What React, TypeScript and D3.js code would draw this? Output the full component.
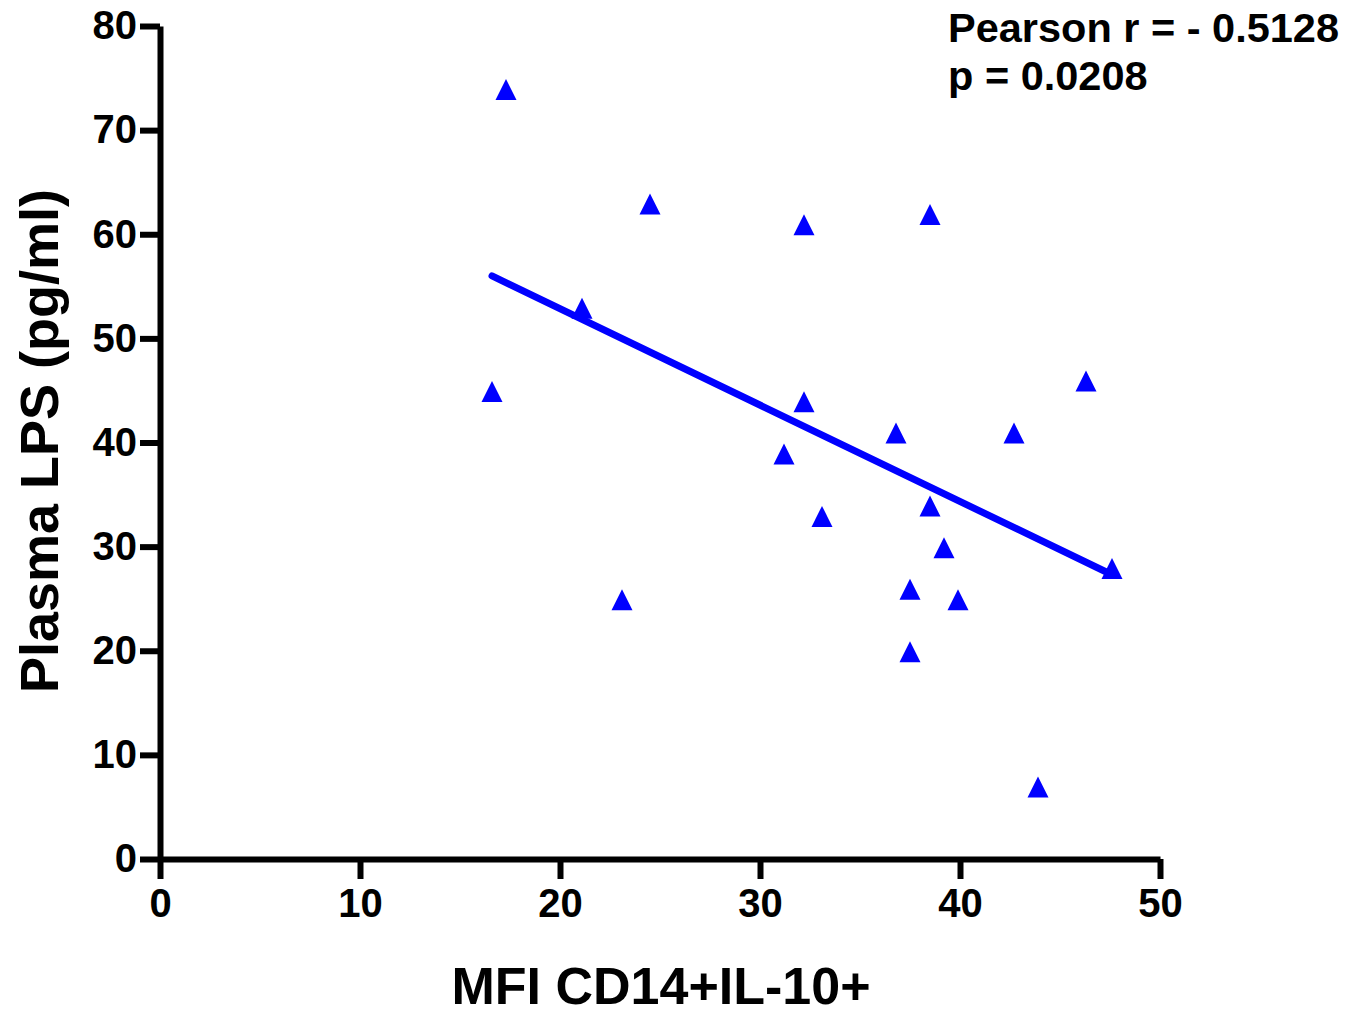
import React, { useEffect, useRef } from "react";
import * as d3 from "d3";

// MFI CD14+IL-10+ (x) vs plasma LPS (y)
const mfiValues = [17.3, 16.6, 21.1, 24.5, 23.1, 32.2, 38.5, 32.2, 31.2, 33.1, 36.8, 38.5, 39.2, 37.5, 37.5, 39.9, 42.7, 46.3, 47.6, 43.9];
const lpsValues = [74, 45, 53, 63, 25, 61, 62, 44, 39, 33, 41, 34, 30, 26, 20, 25, 41, 46, 28, 7];
const fitX = [16.6, 47.6];
const fitY = [56, 27.3];
const xTicks = [0, 10, 20, 30, 40, 50];
const yTicks = [0, 10, 20, 30, 40, 50, 60, 70, 80];
const statLines = ["Pearson r = - 0.5128", "p = 0.0208"];

export default function App() {
  const svgRef = useRef<SVGSVGElement>(null);
  const width = 1363;
  const height = 1016;
  const margin = { top: 26, right: 203, bottom: 157, left: 160 };
  const font = "'Liberation Sans', Arial, sans-serif";

  useEffect(() => {
    const svg = d3.select(svgRef.current);
    svg.selectAll("*").remove();

    const x = d3.scaleLinear().domain([0, 50]).range([margin.left, width - margin.right]);
    const y = d3.scaleLinear().domain([0, 80]).range([height - margin.bottom, margin.top]);

    // y axis
    const yAxis = svg
      .append("g")
      .attr("transform", `translate(${margin.left}, 0)`)
      .call(d3.axisLeft(y).tickValues(yTicks).tickSize(20).tickSizeOuter(0).tickPadding(3));
    yAxis.select(".domain").attr("stroke-width", 6).attr("stroke", "#000");
    yAxis.selectAll(".tick line").attr("stroke-width", 6).attr("stroke", "#000");
    yAxis
      .selectAll(".tick text")
      .attr("font-family", font)
      .attr("font-weight", "bold")
      .attr("font-size", 40)
      .attr("fill", "#000");

    // x axis
    const xAxis = svg
      .append("g")
      .attr("transform", `translate(0, ${height - margin.bottom})`)
      .call(d3.axisBottom(x).tickValues(xTicks).tickSize(20).tickSizeOuter(0).tickPadding(10));
    xAxis.select(".domain").attr("stroke-width", 6).attr("stroke", "#000");
    xAxis.selectAll(".tick line").attr("stroke-width", 6).attr("stroke", "#000");
    xAxis
      .selectAll(".tick text")
      .attr("font-family", font)
      .attr("font-weight", "bold")
      .attr("font-size", 40)
      .attr("fill", "#000");

    // regression line
    const line = d3
      .line<number>()
      .x((d) => x(d))
      .y((_, i) => y(fitY[i]));
    svg
      .append("path")
      .attr("d", line(fitX))
      .attr("fill", "none")
      .attr("stroke", "#0000ff")
      .attr("stroke-width", 7)
      .attr("stroke-linecap", "round");

    // points: triangle about 21px wide and 21px tall
    const tri = d3.path();
    tri.moveTo(0, -10.5);
    tri.lineTo(10.5, 10.5);
    tri.lineTo(-10.5, 10.5);
    tri.closePath();
    svg
      .selectAll("path.pt")
      .data(mfiValues)
      .enter()
      .append("path")
      .attr("class", "pt")
      .attr("d", tri.toString())
      .attr("transform", (d, i) => `translate(${x(d)}, ${y(lpsValues[i]) + 1})`)
      .attr("fill", "#0000ff");

    // axis titles
    svg
      .append("text")
      .attr("x", 661)
      .attr("y", 1004)
      .attr("text-anchor", "middle")
      .attr("font-family", font)
      .attr("font-weight", "bold")
      .attr("font-size", 52)
      .text("MFI CD14+IL-10+");

    svg
      .append("text")
      .attr("transform", `translate(58, 441) rotate(-90)`)
      .attr("text-anchor", "middle")
      .attr("font-family", font)
      .attr("font-weight", "bold")
      .attr("font-size", 54)
      .text("Plasma LPS (pg/ml)");

    // stats
    svg
      .selectAll("text.stat")
      .data(statLines)
      .enter()
      .append("text")
      .attr("class", "stat")
      .attr("x", 948)
      .attr("y", (_, i) => 42 + i * 48)
      .attr("font-family", font)
      .attr("font-weight", "bold")
      .attr("font-size", 41.5)
      .text((d) => d);
  }, []);

  return (
    <svg
      ref={svgRef}
      width={width}
      height={height}
      style={{ position: "absolute", left: 0, top: 0, background: "#fff" }}
    />
  );
}
